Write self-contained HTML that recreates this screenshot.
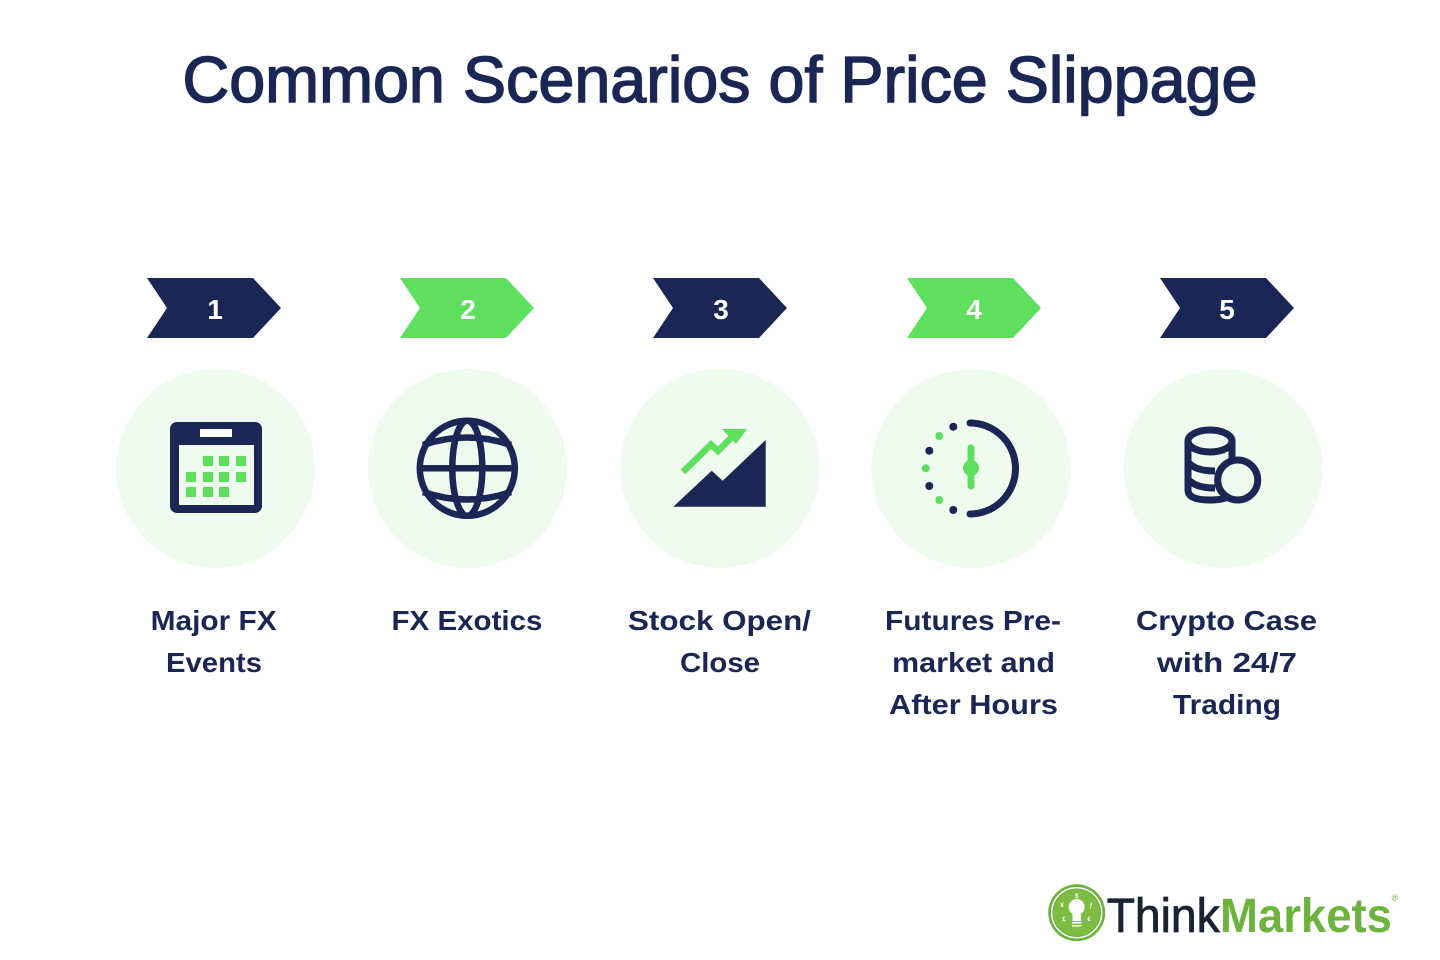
<!DOCTYPE html>
<html><head><meta charset="utf-8"><style>
html,body{margin:0;padding:0;background:#fff;}
svg{display:block;}
text{font-family:"Liberation Sans",sans-serif;}
</style></head><body>
<svg width="1440" height="960" viewBox="0 0 1440 960" xmlns="http://www.w3.org/2000/svg">
<rect width="1440" height="960" fill="#ffffff"/>
<!-- Title -->
<text x="720" y="102" text-anchor="middle" font-size="65" fill="#1a2654" stroke="#1a2654" stroke-width="1.5" textLength="1075" lengthAdjust="spacingAndGlyphs">Common Scenarios of Price Slippage</text>

<!-- Chevrons -->
<g>
<polygon points="147,278 253,278 281,308 253,338 147,338 167,308" fill="#1a2654"/>
<polygon points="400,278 506,278 534,308 506,338 400,338 420,308" fill="#5ee05e"/>
<polygon points="653,278 759,278 787,308 759,338 653,338 673,308" fill="#1a2654"/>
<polygon points="907,278 1013,278 1041,308 1013,338 907,338 927,308" fill="#5ee05e"/>
<polygon points="1160,278 1266,278 1294,308 1266,338 1160,338 1180,308" fill="#1a2654"/>
<g font-size="28" font-weight="bold" fill="#ffffff" text-anchor="middle">
<text x="215" y="319">1</text>
<text x="468" y="319">2</text>
<text x="721" y="319">3</text>
<text x="974" y="319">4</text>
<text x="1227" y="319">5</text>
</g>
</g>

<!-- Circles -->
<g fill="#effbef">
<circle cx="215.5" cy="468.5" r="99.5"/>
<circle cx="467.5" cy="468.5" r="99.5"/>
<circle cx="720" cy="468.5" r="99.5"/>
<circle cx="971" cy="468.5" r="99.5"/>
<circle cx="1223" cy="468.5" r="99.5"/>
</g>

<!-- Calendar icon -->
<rect x="170" y="422" width="92" height="91" rx="7" fill="#1a2654"/>
<rect x="179" y="445" width="75" height="60" fill="#effbef"/>
<rect x="200" y="429" width="32" height="8" fill="#ffffff"/>
<g fill="#5ee05e">
<rect x="203" y="456" width="10" height="10"/><rect x="219" y="456" width="10" height="10"/><rect x="236" y="456" width="10" height="10"/>
<rect x="186" y="472" width="10" height="10"/><rect x="203" y="472" width="10" height="10"/><rect x="219" y="472" width="10" height="10"/><rect x="236" y="472" width="10" height="10"/>
<rect x="186" y="487" width="10" height="10"/><rect x="203" y="487" width="10" height="10"/><rect x="219" y="487" width="10" height="10"/>
</g>

<!-- Globe icon -->
<g fill="none" stroke="#1a2654" stroke-width="6.5">
<circle cx="467.3" cy="468.3" r="47.5"/>
<ellipse cx="467.3" cy="468.3" rx="15" ry="47.5"/>
<line x1="420" y1="468.3" x2="515" y2="468.3"/>
<path d="M423,445 Q467,430 511,445"/>
<path d="M423,492 Q467,507 511,492"/>
</g>

<!-- Stock icon -->
<polygon points="673.3,506.7 711.7,470.7 722.7,480.7 765.7,440 765.7,506.7" fill="#1a2654"/>
<polyline points="683,472 711,444.5 718,451 735,434" fill="none" stroke="#5ee05e" stroke-width="6.5"/>
<polygon points="722,429 747,429 736,444" fill="#5ee05e"/>

<!-- Clock icon -->
<path d="M970,423 A45.5,45.5 0 0 1 970,514" fill="none" stroke="#1a2654" stroke-width="7" stroke-linecap="round"/>
<g>
<circle cx="953.3" cy="426.7" r="4" fill="#1a2654"/>
<circle cx="939.3" cy="436" r="4" fill="#5ee05e"/>
<circle cx="929.3" cy="450.7" r="4" fill="#1a2654"/>
<circle cx="925.7" cy="468.3" r="4" fill="#5ee05e"/>
<circle cx="929.3" cy="486" r="4" fill="#1a2654"/>
<circle cx="939.3" cy="500" r="4" fill="#5ee05e"/>
<circle cx="953.3" cy="510" r="4" fill="#1a2654"/>
</g>
<line x1="971" y1="448" x2="971" y2="486" stroke="#5ee05e" stroke-width="7" stroke-linecap="round"/>
<circle cx="971" cy="468" r="8" fill="#5ee05e"/>

<!-- Crypto coins icon -->
<g fill="none" stroke="#1a2654" stroke-width="7">
<path d="M1188,441 L1188,490 Q1188,500 1210,500 Q1232,500 1232,490 L1232,441"/>
<ellipse cx="1210" cy="441" rx="22" ry="11"/>
<path d="M1188,462 Q1195,471 1215,471"/>
<path d="M1188,479 Q1195,488 1215,488"/>
</g>
<circle cx="1237.7" cy="480" r="20" fill="#effbef" stroke="#1a2654" stroke-width="7"/>

<!-- Labels -->
<g font-size="28" font-weight="bold" fill="#1a2654" text-anchor="middle">
<text x="213.7" y="630" textLength="126" lengthAdjust="spacingAndGlyphs">Major FX</text>
<text x="214" y="672" textLength="96" lengthAdjust="spacingAndGlyphs">Events</text>
<text x="467" y="630" textLength="151" lengthAdjust="spacingAndGlyphs">FX Exotics</text>
<text x="719.5" y="630" textLength="183" lengthAdjust="spacingAndGlyphs">Stock Open/</text>
<text x="720" y="672" textLength="80" lengthAdjust="spacingAndGlyphs">Close</text>
<text x="973" y="630" textLength="176" lengthAdjust="spacingAndGlyphs">Futures Pre-</text>
<text x="973.5" y="672" textLength="163" lengthAdjust="spacingAndGlyphs">market and</text>
<text x="973.5" y="714" textLength="169" lengthAdjust="spacingAndGlyphs">After Hours</text>
<text x="1226.5" y="630" textLength="181" lengthAdjust="spacingAndGlyphs">Crypto Case</text>
<text x="1227" y="672" textLength="140" lengthAdjust="spacingAndGlyphs">with 24/7</text>
<text x="1227" y="714" textLength="108" lengthAdjust="spacingAndGlyphs">Trading</text>
</g>

<!-- Logo -->
<g>
<circle cx="1076.7" cy="912.7" r="28.5" fill="#6cb33f"/>
<circle cx="1076.7" cy="912.7" r="25" fill="none" stroke="#ffffff" stroke-width="1.5"/>
<circle cx="1076.7" cy="912.7" r="23" fill="#7cbd42"/>
<circle cx="1076.7" cy="907" r="8" fill="#ffffff"/>
<rect x="1072.5" y="911" width="8.4" height="10" fill="#ffffff"/>
<rect x="1072" y="922" width="9.4" height="1.6" fill="#ffffff"/>
<rect x="1072" y="925" width="9.4" height="1.6" fill="#ffffff"/>
<g font-size="6" fill="#ffffff" text-anchor="middle" font-weight="bold">
<text x="1076.7" y="898">$</text>
<text x="1062" y="907">¥</text>
<text x="1091" y="907">ƒ</text>
<text x="1064" y="921">£</text>
<text x="1089" y="921">€</text>
</g>
<text x="1106.7" y="932" font-size="48" fill="#1a2233" stroke="#1a2233" stroke-width="0.8" textLength="113" lengthAdjust="spacingAndGlyphs">Think</text>
<text x="1220" y="932" font-size="48" font-weight="bold" fill="#6cb33f" textLength="172" lengthAdjust="spacingAndGlyphs">Markets</text>
<text x="1395" y="901" font-size="9" fill="#6cb33f" text-anchor="middle">®</text>
</g>
</svg>
</body></html>
